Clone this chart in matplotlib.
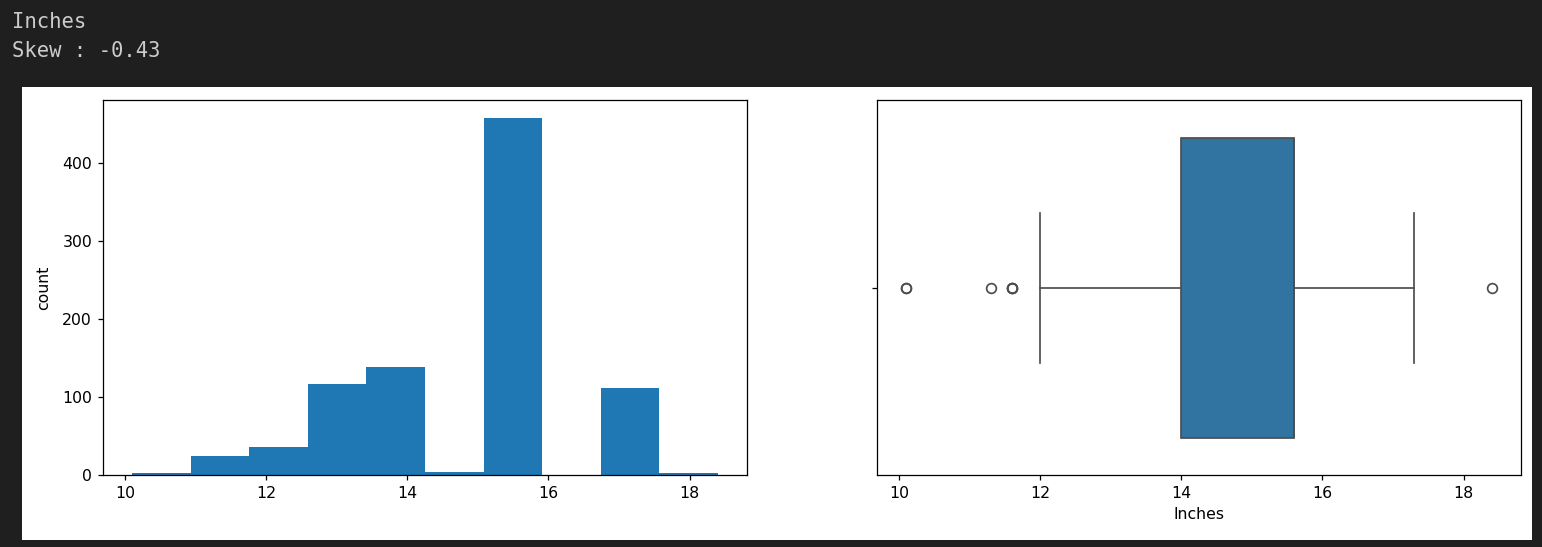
import matplotlib
matplotlib.use("Agg")
import matplotlib.pyplot as plt
from matplotlib.patches import Rectangle

# Histogram of screen sizes (bin edges and counts)
bin_edges = [10.1, 10.93, 11.76, 12.59, 13.42, 14.25, 15.08, 15.91, 16.74, 17.57, 18.4]
bin_counts = [3, 25, 36, 117, 139, 4, 458, 0, 112, 2]

# Box plot summary
box_q1 = 14.0
box_median = 15.6
box_q3 = 15.6
whisker_low = 12.0
whisker_high = 17.3
outliers = [10.1, 10.1, 11.3, 11.6, 11.6, 11.6, 18.4]

col_name = "Inches"
skew_text = "Skew : -0.43"

# the figure in the screenshot is shown a bit larger than 100 dpi
DPI = 113
W, H = 1542, 547
fig = plt.figure(figsize=(W / DPI, H / DPI), dpi=DPI)
fig.patch.set_facecolor("#1f1f1f")

# white figure area inside the notebook cell
fig.patches.append(Rectangle((22 / W, 1 - 540 / H), 1510 / W, 453 / H,
                             transform=fig.transFigure, facecolor="white",
                             edgecolor="none", zorder=-10))

# printed text above the figure
fig.text(12 / W, 1 - 28 / H, col_name, color="#cccccc", fontsize=13.1,
         family="DejaVu Sans Mono", va="baseline")
fig.text(12 / W, 1 - 57 / H, skew_text, color="#cccccc", fontsize=13.1,
         family="DejaVu Sans Mono", va="baseline")

def px_axes(x0, x1, y0, y1):
    return fig.add_axes([x0 / W, 1 - y1 / H, (x1 - x0) / W, (y1 - y0) / H])

# left: histogram
ax1 = px_axes(103, 747, 100, 475)
centers = [(bin_edges[i] + bin_edges[i + 1]) / 2 for i in range(len(bin_counts))]
ax1.hist(centers, bins=bin_edges, weights=bin_counts, color="#1f77b4")
ax1.set_ylabel("count", labelpad=7)
ax1.set_xticks([10, 12, 14, 16, 18])
ax1.set_yticks([0, 100, 200, 300, 400])

# right: box plot
ax2 = px_axes(877, 1521, 100, 475)
stats = [{
    "med": box_median, "q1": box_q1, "q3": box_q3,
    "whislo": whisker_low, "whishi": whisker_high, "fliers": outliers,
}]
line_col = "#4d4d4d"
ax2.bxp(stats, positions=[0], widths=0.8, capwidths=0.4, vert=False,
        patch_artist=True, manage_ticks=False,
        boxprops=dict(facecolor="#3274a1", edgecolor=line_col, linewidth=1.1),
        whiskerprops=dict(color=line_col, linewidth=1.1),
        capprops=dict(color=line_col, linewidth=1.1),
        medianprops=dict(color=line_col, linewidth=1.1),
        flierprops=dict(marker="o", markerfacecolor="none",
                        markeredgecolor=line_col, markersize=6.2,
                        markeredgewidth=1.1))
ax2.set_xlim(9.685, 18.815)
ax2.set_ylim(0.5, -0.5)
ax2.set_yticks([0])
ax2.set_yticklabels([""])
ax2.set_xticks([10, 12, 14, 16, 18])
ax2.set_xlabel("Inches")

fig.savefig("out.png", dpi=DPI, facecolor=fig.get_facecolor())
